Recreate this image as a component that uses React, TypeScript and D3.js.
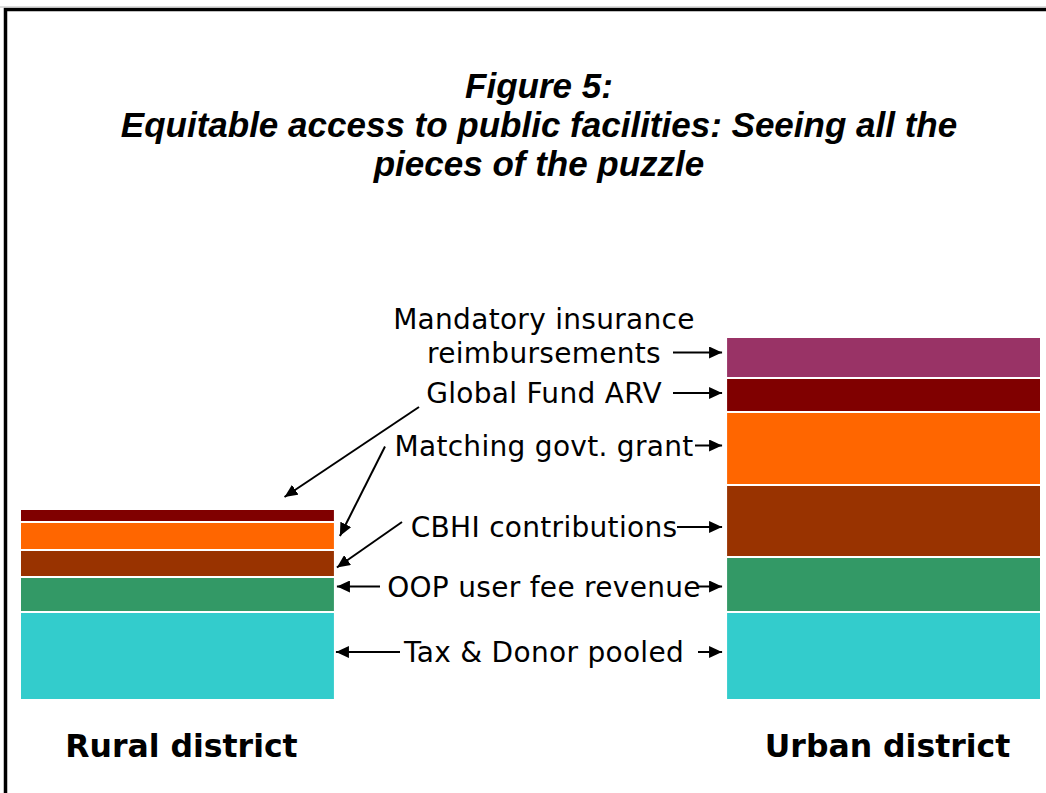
import React from "react";
import * as d3 from "d3";

// Figure 5 – two stacked bars of facility funding sources
const categories = ["Rural district", "Urban district"];
const sources = [
  "Tax & Donor pooled",
  "OOP user fee revenue",
  "CBHI contributions",
  "Matching govt. grant",
  "Global Fund ARV",
  "Mandatory insurance reimbursements",
];
const ruralValues = [88, 35, 27, 28, 13, 0];
const urbanValues = [88, 55, 72, 73, 34, 41];
const sourceColors = ["#33CCCC", "#339966", "#993300", "#FF6600", "#800000", "#993366"];
const titleLines = ["Figure 5:", "Equitable access to public facilities: Seeing all the", "pieces of the puzzle"];
// annotation text lines per source (bottom to top order as sources)
const labelLines = [
  ["Tax & Donor pooled"],
  ["OOP user fee revenue"],
  ["CBHI contributions"],
  ["Matching govt. grant"],
  ["Global Fund ARV"],
  ["Mandatory insurance", "reimbursements"],
];

const W = 1046;
const H = 793;

export default function App() {
  const x = d3.scaleBand().domain(categories).range([20, 1041]).paddingInner(0.554).paddingOuter(0);
  const y = d3.scaleLinear().domain([0, 400]).range([700, 300]);

  const table = categories.map((c, i) => {
    const row: any = { cat: c };
    sources.forEach((s, j) => (row[s] = i === 0 ? ruralValues[j] : urbanValues[j]));
    return row;
  });
  const series = d3.stack().keys(sources)(table);

  const bw = x.bandwidth();
  const ruralX = x(categories[0])!;
  const urbanX = x(categories[1])!;
  const labelX = 544;

  // segment mid of urban bar for each source
  const urbanMid = series.map((s) => (y(s[1][0]) + y(s[1][1])) / 2);
  const ruralMid = series.map((s) => (y(s[0][0]) + y(s[0][1])) / 2);
  const arrowY = [urbanMid[0] - 4, urbanMid[1] + 2, urbanMid[2] + 6, urbanMid[3] - 3, urbanMid[4] - 2, urbanMid[5] - 5];
  const rightStart = [698, 697, 677, 695, 673, 673];
  const urbanTip = urbanX - 4;

  const ruralTop = y(series[series.length - 1][0][1]);
  const ruralArrows = [
    { x1: 400, y1: arrowY[0], x2: ruralX + bw + 1, y2: arrowY[0] },
    { x1: 380, y1: arrowY[1], x2: ruralX + bw + 2, y2: arrowY[1] },
    { x1: 402, y1: arrowY[2] - 5, x2: ruralX + bw + 2, y2: ruralMid[2] + 4 },
    { x1: 385, y1: arrowY[3] + 1, x2: ruralX + bw + 5, y2: ruralMid[3] },
    { x1: 419, y1: arrowY[4] + 14, x2: ruralX + bw * 0.84, y2: ruralTop - 12 },
  ];

  return (
    <svg width={W} height={H} style={{ position: "absolute", left: 0, top: 0, background: "#fff" }}>
      <defs>
        <marker id="ah" viewBox="0 0 13 12" refX={13} refY={6} markerWidth={13} markerHeight={12}
          markerUnits="userSpaceOnUse" orient="auto">
          <path d="M0,0 L13,6 L0,12 z" fill="#000" />
        </marker>
      </defs>
      <rect width={W} height={H} fill="#fff" />
      <path d={`M5.5,${H} V9.5 H${W}`} fill="none" stroke="#000" strokeWidth={3.5} />
      <line x1={0} x2={W} y1={7} y2={7} stroke="#bbb" strokeWidth={1} />

      <g fontFamily="'Liberation Sans', Arial, sans-serif" fontWeight="bold" fontStyle="italic" fontSize={35}
        textAnchor="middle">
        {titleLines.map((t, i) => (
          <text key={i} x={539} y={98 + i * 39}>{t}</text>
        ))}
      </g>

      {series.map((s, j) => (
        <g key={j} fill={sourceColors[j]}>
          {s.map((d, i) =>
            d[1] - d[0] > 0 ? (
              <rect key={i} x={x(categories[i])} y={y(d[1])} width={bw} height={y(d[0]) - y(d[1])}
                stroke="#fff" strokeWidth={2} />
            ) : null
          )}
        </g>
      ))}

      <g fontFamily="'DejaVu Sans', Verdana, sans-serif" fontSize={28} letterSpacing={0.3} textAnchor="middle" fill="#000">
        {labelLines.map((lines, j) =>
          lines.map((l, k) => (
            <text key={`${j}-${k}`} x={labelX} y={arrowY[j] + 10 - (lines.length - 1 - k) * 34}>{l}</text>
          ))
        )}
      </g>

      <g stroke="#000" strokeWidth={2}>
        {arrowY.map((ay, j) => (
          <line key={j} x1={rightStart[j]} y1={ay} x2={urbanTip} y2={ay} markerEnd="url(#ah)" />
        ))}
        {ruralArrows.map((a, j) => (
          <line key={`r${j}`} x1={a.x1} y1={a.y1} x2={a.x2} y2={a.y2} markerEnd="url(#ah)" />
        ))}
      </g>

      <g fontFamily="'DejaVu Sans', Verdana, sans-serif" fontWeight="bold" fontSize={31.5} textAnchor="middle">
        {categories.map((c) => (
          <text key={c} x={x(c)! + bw / 2 + 4} y={757}>{c}</text>
        ))}
      </g>
    </svg>
  );
}
